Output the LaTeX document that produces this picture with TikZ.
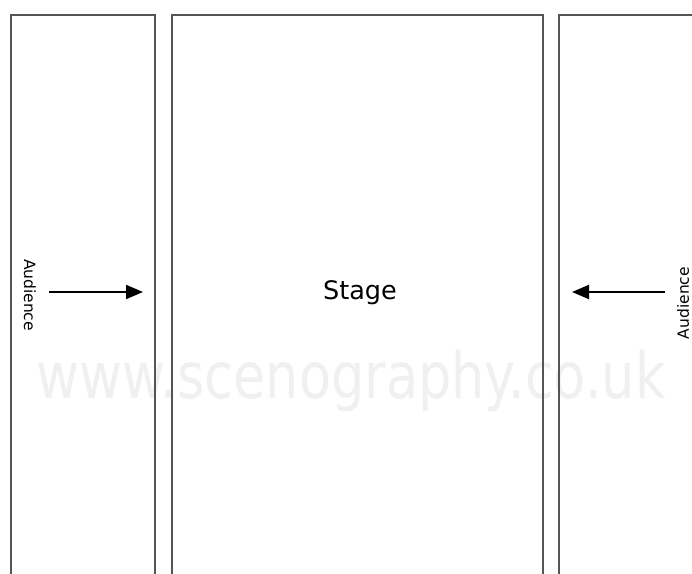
\documentclass[tikz,border=0pt]{standalone}
\usepackage{fontspec}
\setmainfont{DejaVu Sans}
\usetikzlibrary{arrows.meta}
\definecolor{wall}{HTML}{555555}
\definecolor{mark}{HTML}{F0F0F0}
\tikzset{
  wallline/.style={draw=wall, line width=1.4pt},
  viewarrow/.style={draw=black, line width=2pt, -{Triangle[length=17pt,width=14pt]}},
  sidelabel/.style={font=\fontsize{15.5}{15.5}\selectfont, inner sep=0pt},
}
\begin{document}
\begin{tikzpicture}[x=1pt,y=-1pt]
\useasboundingbox (0,0) rectangle (692,573);
\fill[white] (0,0) rectangle (692,573);

% watermark
\node[font=\fontsize{64}{64}\selectfont, text=mark, anchor=base, xscale=0.82, inner sep=0pt]
  (wm) at (351,398) {www.scenography.co.uk};

% seating blocks and stage, open at the bottom edge
\draw[wallline] (11,575) -- (11,15) -- (155,15) -- (155,575);
\draw[wallline] (172,575) -- (172,15) -- (543,15) -- (543,575);
\draw[wallline] (559,575) -- (559,15) -- (694,15);

% labels
\node[font=\fontsize{25.5}{25.5}\selectfont, inner sep=0pt] (stage) at (360,293) {Stage};
\node[sidelabel, rotate=-90] (audL) at (30,295) {Audience};
\node[sidelabel, rotate=90] (audR) at (683,303) {Audience};

% sight lines towards the stage
\coordinate (aLs) at (49,292);
\coordinate (aLe) at (143,292);
\coordinate (aRs) at (665,292);
\coordinate (aRe) at (572,292);
\draw[viewarrow] (aLs) -- (aLe);
\draw[viewarrow] (aRs) -- (aRe);
\end{tikzpicture}
\end{document}
